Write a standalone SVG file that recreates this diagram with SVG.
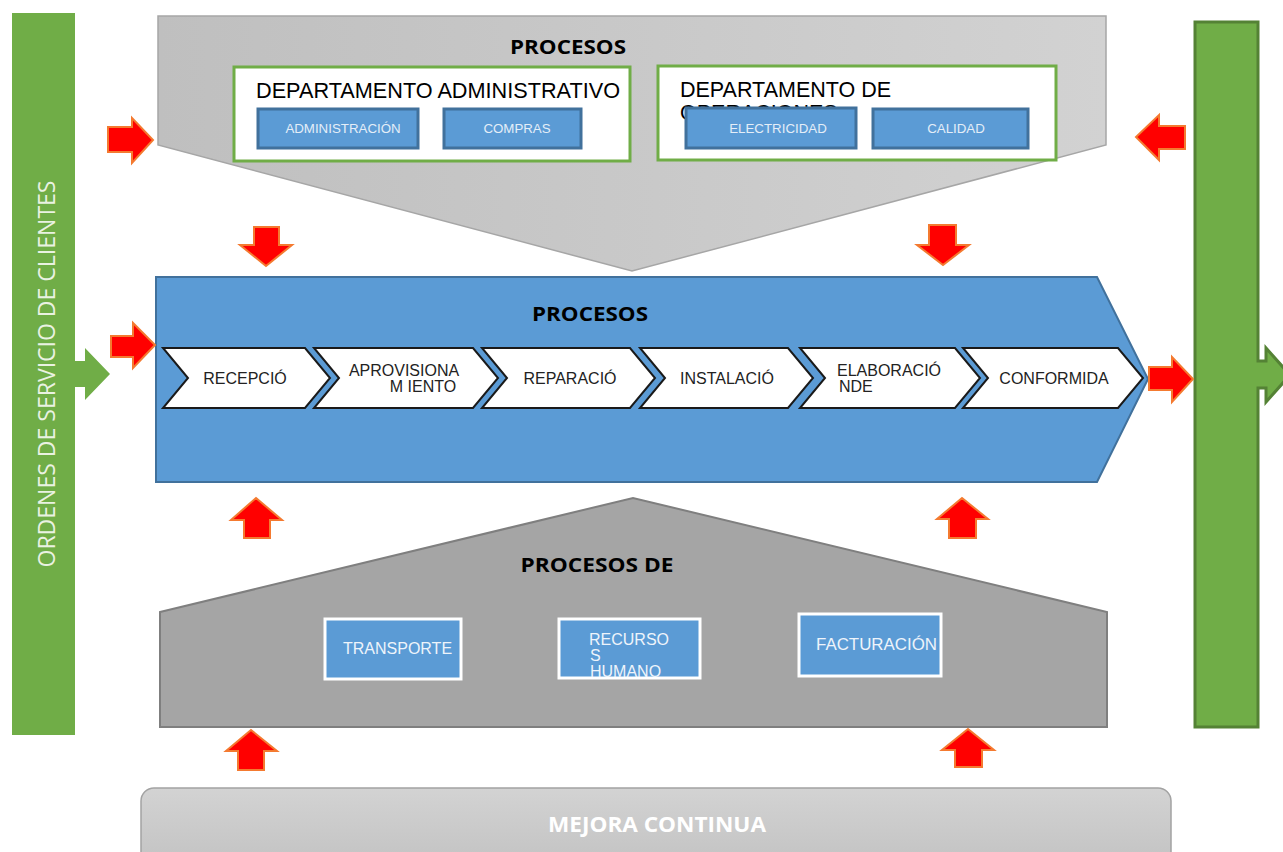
<svg xmlns="http://www.w3.org/2000/svg" width="1283" height="852" viewBox="0 0 1283 852">
<defs>
<linearGradient id="gTop" x1="0" y1="0" x2="1" y2="0"><stop offset="0" stop-color="#bfbfbf"/><stop offset="1" stop-color="#d2d2d2"/></linearGradient>
<linearGradient id="gMej" x1="0" y1="0" x2="0" y2="1"><stop offset="0" stop-color="#d3d3d3"/><stop offset="1" stop-color="#c2c2c2"/></linearGradient>
<clipPath id="clipRH"><rect x="559" y="619" width="141" height="59"/></clipPath>
<style>
.red{fill:#ff0000;stroke:#f47a30;stroke-width:2;stroke-linejoin:miter}
.dept{fill:#fff;stroke:#70ad47;stroke-width:3}
.bbox{fill:#5b9bd5;stroke:#41719c;stroke-width:3}
.wbox{fill:#5b9bd5;stroke:#fff;stroke-width:3}
.chev{fill:#fff;stroke:#1a1a1a;stroke-width:2;stroke-linejoin:miter}
.t-bold{font-family:"Open Sans","Liberation Sans",sans-serif;font-weight:bold;fill:#000}
.t-dept{font-family:"Liberation Sans",Arial,sans-serif;font-size:21.5px;fill:#000}
.t-small{font-family:"Liberation Sans",Arial,sans-serif;font-size:13.3px;fill:#e4eef8}
.t-chev{font-family:"Liberation Sans",Arial,sans-serif;font-size:16px;fill:#222}
.t-sup{font-family:"Liberation Sans",Arial,sans-serif;font-size:16px;fill:#eef4fb}
</style>
</defs>
<rect width="1283" height="852" fill="#fff"/>

<g id="clientes">
<path d="M12,13 H75 V361 H85 V348 L110,374 L85,400 V387 H75 V735 H12 Z" fill="#70ad47"/>
<text transform="translate(55,374) rotate(-90)" text-anchor="middle" font-family="'Open Sans','Liberation Sans',sans-serif" font-size="23" fill="#eaf2e2" textLength="387" lengthAdjust="spacingAndGlyphs">ORDENES DE SERVICIO DE CLIENTES</text>
</g>

<g id="salida">
<path d="M1195,22 H1258 V361 H1266 V348 L1290,375 L1266,402 V388 H1258 V727 H1195 Z" fill="#70ad47" stroke="#548235" stroke-width="3"/>
</g>

<g id="procesos-estrategicos">
<path d="M158,16 H1106 V145 L632,271 L158,145 Z" fill="url(#gTop)" stroke="#a6a6a6" stroke-width="1.5"/>
<text class="t-bold" x="568" y="54" font-size="20" text-anchor="middle" textLength="116" lengthAdjust="spacingAndGlyphs">PROCESOS</text>
</g>

<g id="dep-administrativo">
<rect class="dept" x="234" y="67" width="396" height="94"/>
<text class="t-dept" x="256" y="98" textLength="364" lengthAdjust="spacingAndGlyphs">DEPARTAMENTO ADMINISTRATIVO</text>
</g>
<g id="administracion">
<rect class="bbox" x="258" y="109" width="160" height="39"/>
<text class="t-small" x="343" y="133" text-anchor="middle">ADMINISTRACIÓN</text>
</g>
<g id="compras">
<rect class="bbox" x="444" y="109" width="137" height="39"/>
<text class="t-small" x="517" y="133" text-anchor="middle">COMPRAS</text>
</g>

<g id="dep-operaciones">
<rect class="dept" x="658" y="66" width="398" height="94"/>
<text class="t-dept" x="680" y="97">DEPARTAMENTO DE</text>
<text class="t-dept" x="680" y="120">OPERACIONES</text>
</g>
<g id="electricidad">
<rect class="bbox" x="686" y="108" width="170" height="40"/>
<text class="t-small" x="778" y="133" text-anchor="middle">ELECTRICIDAD</text>
</g>
<g id="calidad">
<rect class="bbox" x="873" y="109" width="155" height="39"/>
<text class="t-small" x="956" y="133" text-anchor="middle">CALIDAD</text>
</g>

<g id="procesos-operativos">
<path d="M156,277 H1097 L1148,379 L1097,482 H156 Z" fill="#5b9bd5" stroke="#41719c" stroke-width="2"/>
<text class="t-bold" x="590" y="321" font-size="20" text-anchor="middle" textLength="116" lengthAdjust="spacingAndGlyphs">PROCESOS</text>
</g>

<g id="recepcion">
<path class="chev" d="M163,348 H305 L330,378 L305,408 H163 L188,378 Z"/>
<text class="t-chev" x="245" y="384" text-anchor="middle">RECEPCIÓ</text>
</g>
<g id="aprovisionamiento">
<path class="chev" d="M314,348 H473 L498,378 L473,408 H314 L339,378 Z"/>
<text class="t-chev" x="404" y="376" text-anchor="middle">APROVISIONA</text>
<text class="t-chev" x="423" y="392" text-anchor="middle">M IENTO</text>
</g>
<g id="reparacion">
<path class="chev" d="M482,348 H630 L655,378 L630,408 H482 L507,378 Z"/>
<text class="t-chev" x="570" y="384" text-anchor="middle">REPARACIÓ</text>
</g>
<g id="instalacion">
<path class="chev" d="M640,348 H788 L813,378 L788,408 H640 L665,378 Z"/>
<text class="t-chev" x="727" y="384" text-anchor="middle">INSTALACIÓ</text>
</g>
<g id="elaboracion">
<path class="chev" d="M800,348 H955 L980,378 L955,408 H800 L825,378 Z"/>
<text class="t-chev" x="889" y="376" text-anchor="middle">ELABORACIÓ</text>
<text class="t-chev" x="839" y="392">NDE</text>
</g>
<g id="conformidad">
<path class="chev" d="M963,348 H1118 L1143,378 L1118,408 H963 L988,378 Z"/>
<text class="t-chev" x="1054" y="384" text-anchor="middle">CONFORMIDA</text>
</g>

<g id="procesos-soporte">
<path d="M160,612 L633,498 L1107,612 V727 H160 Z" fill="#a5a5a5" stroke="#7f7f7f" stroke-width="2"/>
<text class="t-bold" x="597" y="572" font-size="20" text-anchor="middle" textLength="153" lengthAdjust="spacingAndGlyphs">PROCESOS DE</text>
</g>
<g id="transporte">
<rect class="wbox" x="325" y="619" width="136" height="60"/>
<text class="t-sup" x="343" y="654">TRANSPORTE</text>
</g>
<g id="recursos-humanos">
<rect class="wbox" x="559" y="619" width="141" height="59"/>
<g clip-path="url(#clipRH)">
<text class="t-sup" x="589" y="645">RECURSO</text>
<text class="t-sup" x="590" y="661">S</text>
<text class="t-sup" x="590" y="677">HUMANO</text>
</g>
</g>
<g id="facturacion">
<rect class="wbox" x="799" y="614" width="142" height="62"/>
<text class="t-sup" x="816" y="650" textLength="121" lengthAdjust="spacingAndGlyphs">FACTURACIÓN</text>
</g>

<g id="mejora-continua">
<rect x="141" y="788" width="1030" height="80" rx="13" fill="url(#gMej)" stroke="#a3a3a3" stroke-width="1.5"/>
<text x="657" y="832" text-anchor="middle" font-family="'Open Sans','Liberation Sans',sans-serif" font-weight="bold" font-size="21" fill="#fff" textLength="218" lengthAdjust="spacingAndGlyphs">MEJORA CONTINUA</text>
</g>

<g id="connectors">
<path class="red" d="M108,127 H132 V118 L153,140 L132,163 V152 H108 Z"/>
<path class="red" d="M1185,126 H1159 V115 L1136,137 L1159,160 V149 H1185 Z"/>
<path class="red" d="M254,227 H279 V245 H292 L266,266 L240,245 H254 Z"/>
<path class="red" d="M929,225 H956 V245 H969 L943,265 L917,245 H929 Z"/>
<path class="red" d="M111,336 H133 V323 L155,345 L133,368 V357 H111 Z"/>
<path class="red" d="M1149,367 H1172 V357 L1193,379 L1172,402 V390 H1149 Z"/>
<path class="red" d="M256,498 L282,520 H270 V538 H244 V520 H231 Z"/>
<path class="red" d="M962,498 L988,519 H976 V538 H949 V519 H937 Z"/>
<path class="red" d="M251,730 L277,751 H264 V770 H238 V751 H226 Z"/>
<path class="red" d="M968,729 L994,750 H982 V767 H955 V750 H942 Z"/>
</g>
</svg>
